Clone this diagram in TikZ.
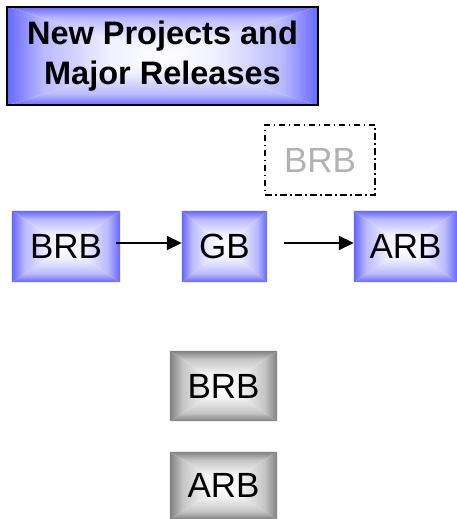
\documentclass[tikz,border=0pt]{standalone}
\usepackage{fontspec}
\setmainfont{Liberation Sans}
\usetikzlibrary{backgrounds,arrows.meta}

\definecolor{boxblue}{RGB}{102,102,255}
\definecolor{boxgray}{RGB}{128,128,128}
\definecolor{ghosttext}{RGB}{178,178,178}

% Edge colour at the top, fading quickly to white towards the bottom.
\colorlet{gradedge}{boxblue}
\colorlet{gradmid}{boxblue!45!white}
\colorlet{gradlite}{boxblue!10!white}
\pgfdeclareverticalshading[gradedge,gradmid,gradlite]{edgefade}{100bp}{%
  color(0bp)=(white); color(25bp)=(white); color(42bp)=(gradlite);
  color(63bp)=(gradmid); color(75bp)=(gradedge); color(100bp)=(gradedge)}

% Rectangle gradient running from the edge colour to white at the centre:
% four triangles meeting at the centre, each with its own shading.
\newcommand\centregrad[2]{%
  \colorlet{gradedge}{#2}%
  \colorlet{gradmid}{#2!45!white}%
  \colorlet{gradlite}{#2!10!white}%
  \begin{scope}[on background layer]
    \shade[shading=edgefade, shading angle=0]
      (#1.north west) -- (#1.north east) -- (#1.center) -- cycle;
    \shade[shading=edgefade, shading angle=180]
      (#1.south west) -- (#1.south east) -- (#1.center) -- cycle;
    \shade[shading=edgefade, shading angle=90]
      (#1.north west) -- (#1.south west) -- (#1.center) -- cycle;
    \shade[shading=edgefade, shading angle=270]
      (#1.north east) -- (#1.south east) -- (#1.center) -- cycle;
  \end{scope}}

\tikzset{
  board/.style={rectangle, inner sep=0pt, font=\fontsize{35}{40}\selectfont,
    text=black},
  title/.style={rectangle, draw=black, line width=1.6pt, inner sep=0pt,
    align=center, font=\fontsize{32.5}{40}\selectfont\bfseries},
  ghost/.style={rectangle, draw=black, line width=1.7pt, inner sep=0pt,
    dash pattern=on 6.5pt off 3.5pt on 1.5pt off 3.5pt,
    font=\fontsize{35}{40}\selectfont, text=ghosttext},
  flow/.style={line width=1.8pt, -{Triangle[length=15pt,width=14pt]}},
}

\begin{document}
\begin{tikzpicture}[x=1pt,y=1pt]
  \useasboundingbox (0,0) rectangle (457,519);

  % heading
  \node[title, minimum width=311pt, minimum height=98pt] (head) at (162.5,463)
    {New Projects and\\Major Releases};
  \centregrad{head}{boxblue}

  % optional board, dashed outline
  \node[ghost, minimum width=110pt, minimum height=70pt] (opt) at (320,359) {BRB};

  % main review chain
  \node[board, minimum width=108pt, minimum height=71pt] (brb) at (66,272.5) {BRB};
  \node[board, minimum width=85pt, minimum height=71pt] (gb) at (224.5,272.5) {GB};
  \node[board, minimum width=103pt, minimum height=71pt] (arb) at (405.5,272.5) {ARB};
  \centregrad{brb}{boxblue}
  \centregrad{gb}{boxblue}
  \centregrad{arb}{boxblue}

  \draw[flow] ([xshift=-4pt,yshift=3.5pt]brb.east) -- ([yshift=3.5pt]gb.west);
  \draw[flow] ([xshift=17pt,yshift=3.5pt]gb.east) -- ([yshift=3.5pt]arb.west);

  % grey boards
  \node[board, minimum width=107pt, minimum height=70pt] (brbg) at (223.5,133) {BRB};
  \node[board, minimum width=107pt, minimum height=67pt] (arbg) at (223.5,33.5) {ARB};
  \centregrad{brbg}{boxgray}
  \centregrad{arbg}{boxgray}
\end{tikzpicture}
\end{document}
